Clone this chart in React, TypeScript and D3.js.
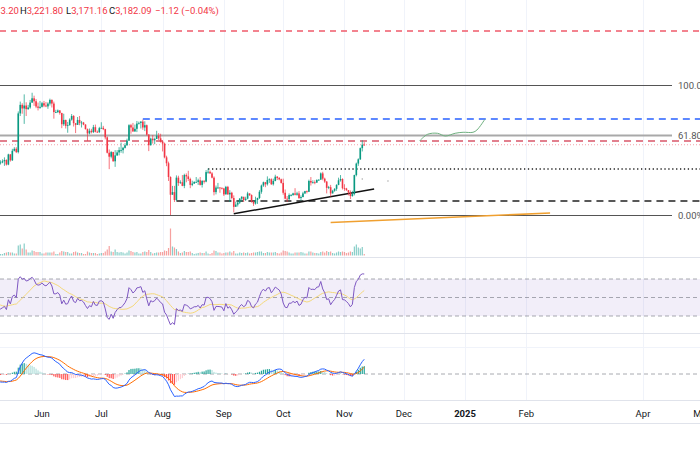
import React from 'react';
import * as d3 from 'd3';

// ETH/USD daily, 2024-05-01 .. 2024-11-11
const firstDay = '2024-05-01';

// April closes, only used so the indicators are warmed up
const warmupCloses = [
  3505, 3275, 3310, 3330, 3320, 3350, 3455, 3700, 3505, 3545, 3505, 3240, 3005, 3105, 3095,
  3080, 2985, 3065, 3055, 3155, 3145, 3200, 3220, 3140, 3155, 3130, 3255, 3265, 3215, 3015,
];

const closes = [
  2970, 2990, 3100, 3115, 3135, 3065, 3010, 2975, 3035, 2910, 2912, 2930, 2950, 2880, 3035, 2945, 3090, 3120, 3070, 3660, 3790, 3735, 3780, 3725, 3750, 3825, 3890, 3845, 3765, 3745, 3760,
  3815, 3780, 3767, 3810, 3865, 3810, 3680, 3680, 3705, 3665, 3495, 3560, 3470, 3480, 3565, 3620, 3510, 3485, 3560, 3515, 3520, 3490, 3420, 3355, 3395, 3375, 3450, 3380, 3375, 3435,
  3440, 3420, 3295, 3060, 3000, 3070, 2930, 3020, 3065, 3100, 3100, 3135, 3175, 3245, 3480, 3445, 3385, 3425, 3505, 3515, 3535, 3445, 3480, 3335, 3175, 3275, 3250, 3270, 3320, 3280, 3230,
  3200, 2990, 2900, 2690, 2420, 2460, 2340, 2680, 2600, 2610, 2555, 2720, 2700, 2660, 2570, 2590, 2615, 2615, 2640, 2570, 2630, 2620, 2765, 2770, 2745, 2680, 2460, 2530, 2530, 2525, 2515,
  2425, 2540, 2425, 2450, 2370, 2235, 2270, 2300, 2360, 2390, 2340, 2360, 2440, 2415, 2315, 2285, 2340, 2370, 2465, 2560, 2610, 2580, 2645, 2655, 2580, 2630, 2695, 2675, 2655, 2600,
  2450, 2360, 2350, 2415, 2415, 2440, 2420, 2440, 2370, 2385, 2440, 2475, 2465, 2630, 2605, 2610, 2605, 2645, 2650, 2745, 2665, 2620, 2525, 2535, 2440, 2480, 2510, 2570, 2640, 2660, 2520,
  2515, 2490, 2455, 2400, 2430, 2720, 2895, 2960, 3130, 3183, 3182.09,
];

const highs = [
  3020, 3010, 3120, 3170, 3170, 3220, 3130, 3030, 3060, 3050, 2945, 2960, 2990, 2960, 3045, 3040, 3120, 3145, 3145, 3690, 3840, 3815, 3950, 3830, 3790, 3865, 3975, 3930, 3880, 3825, 3850,
  3835, 3850, 3835, 3830, 3885, 3875, 3840, 3715, 3720, 3710, 3670, 3655, 3565, 3530, 3585, 3650, 3635, 3515, 3605, 3620, 3545, 3530, 3495, 3430, 3430, 3425, 3485, 3490, 3400, 3455,
  3525, 3470, 3425, 3310, 3110, 3085, 3075, 3100, 3100, 3145, 3215, 3150, 3205, 3275, 3495, 3500, 3515, 3490, 3545, 3535, 3540, 3565, 3540, 3490, 3345, 3290, 3330, 3290, 3395, 3360, 3350,
  3245, 3215, 3015, 2925, 2700, 2555, 2555, 2715, 2710, 2640, 2720, 2740, 2745, 2785, 2680, 2635, 2625, 2690, 2665, 2690, 2645, 2645, 2795, 2820, 2790, 2765, 2700, 2560, 2600, 2535, 2530,
  2525, 2555, 2555, 2490, 2465, 2410, 2315, 2330, 2370, 2395, 2385, 2390, 2465, 2440, 2425, 2320, 2390, 2375, 2490, 2575, 2620, 2615, 2700, 2670, 2670, 2665, 2725, 2705, 2690, 2665,
  2665, 2500, 2400, 2440, 2430, 2450, 2520, 2465, 2475, 2410, 2465, 2480, 2485, 2650, 2690, 2640, 2640, 2655, 2655, 2760, 2770, 2680, 2630, 2555, 2570, 2495, 2520, 2580, 2680, 2720, 2670,
  2580, 2525, 2490, 2485, 2480, 2725, 2910, 2975, 3140, 3250, 3221.8,
];

const lows = [
  2815, 2890, 2960, 3090, 3080, 3050, 3000, 2940, 2950, 2880, 2880, 2900, 2860, 2865, 2870, 2925, 2935, 3080, 3055, 3050, 3620, 3655, 3500, 3620, 3715, 3730, 3820, 3775, 3740, 3705, 3730,
  3750, 3755, 3755, 3730, 3780, 3750, 3580, 3665, 3665, 3640, 3435, 3470, 3430, 3365, 3475, 3550, 3460, 3360, 3485, 3480, 3445, 3480, 3415, 3240, 3340, 3355, 3360, 3370, 3365, 3360,
  3425, 3405, 3265, 3050, 2810, 2975, 2925, 2845, 3010, 3020, 3060, 3050, 3125, 3165, 3240, 3350, 3380, 3380, 3375, 3490, 3430, 3410, 3390, 3320, 3085, 3170, 3200, 3190, 3300, 3255, 3215,
  3080, 2975, 2855, 2630, 2111, 2420, 2310, 2325, 2555, 2585, 2550, 2520, 2610, 2630, 2520, 2550, 2585, 2605, 2570, 2560, 2530, 2590, 2610, 2740, 2740, 2670, 2410, 2425, 2510, 2450, 2500,
  2400, 2425, 2420, 2310, 2350, 2150, 2260, 2240, 2280, 2320, 2310, 2325, 2350, 2400, 2300, 2250, 2270, 2280, 2355, 2435, 2540, 2535, 2560, 2600, 2570, 2560, 2625, 2645, 2640, 2590,
  2420, 2350, 2310, 2345, 2395, 2405, 2410, 2405, 2355, 2330, 2380, 2430, 2440, 2460, 2560, 2590, 2580, 2600, 2630, 2645, 2640, 2600, 2440, 2505, 2390, 2440, 2465, 2480, 2565, 2620, 2500,
  2480, 2480, 2410, 2355, 2390, 2410, 2700, 2860, 2950, 3080, 3171.16,
];

const volumes = [
  40, 25, 30, 20, 15, 25, 25, 20, 25, 30, 15, 15, 25, 30, 35, 30, 30, 20, 20, 100, 110, 70, 120, 60, 30, 30, 50, 45, 35, 35, 35,
  20, 20, 30, 30, 30, 30, 40, 15, 15, 30, 45, 40, 35, 35, 20, 20, 35, 40, 30, 25, 25, 15, 15, 40, 30, 25, 25, 25, 15, 20,
  25, 25, 40, 60, 95, 40, 35, 60, 35, 30, 35, 30, 20, 30, 50, 45, 35, 30, 35, 20, 20, 35, 40, 35, 55, 35, 20, 25, 30, 30, 35,
  35, 50, 45, 75, 270, 90, 80, 65, 40, 25, 30, 45, 35, 35, 40, 25, 15, 20, 25, 30, 25, 25, 40, 20, 15, 25, 50, 45, 30, 30, 20,
  25, 30, 30, 40, 30, 45, 20, 20, 30, 25, 30, 25, 30, 20, 25, 30, 30, 35, 40, 40, 25, 25, 35, 30, 30, 30, 35, 25, 20, 30,
  50, 45, 40, 30, 20, 20, 30, 30, 30, 35, 30, 20, 20, 40, 40, 30, 25, 25, 20, 35, 40, 30, 45, 35, 40, 25, 20, 30, 40, 35, 40,
  35, 25, 30, 40, 35, 90, 110, 80, 70, 85, 15,
];

const tickDates = ['2024-06-01', '2024-07-01', '2024-08-01', '2024-09-01', '2024-10-01', '2024-11-01', '2024-12-01', '2025-01-01', '2025-02-01', '2025-04-01', '2025-05-01'];
const tickLabels = ['Jun', 'Jul', 'Aug', 'Sep', 'Oct', 'Nov', 'Dec', '2025', 'Feb', 'Apr', 'May'];

// fib retracement (Aug low -> March high)
const fibLow = 2111;
const fibHigh = 4093;
const fibLabels = ['100.00%', '61.80%', '0.00%'];
const fibRatios = [1, 0.618, 0];

// drawn levels
const targetLevel = 4916;
const redLevel = 3239;
const blueLevel = { from: '2024-07-22', price: 3575 };
const dottedLevel = { from: '2024-08-24', price: 2812 };
const dashedLevel = { from: '2024-08-08', price: 2324 };
const trendLine = [['2024-09-06', 2130], ['2024-11-16', 2507]];
const orangeLine = [['2024-10-25', 1997], ['2025-02-13', 2141]];
const projection = [
  ['2024-12-09', 3240], ['2024-12-13', 3341], ['2024-12-18', 3357], ['2024-12-22', 3315], ['2024-12-27', 3357],
  ['2024-12-31', 3372], ['2025-01-05', 3372], ['2025-01-07', 3407], ['2025-01-11', 3570],
];
const strayDots = [['2024-11-10', 2660], ['2024-11-23', 2630]];

const header = [
  { k: 'O', v: '3,183.20', x: -24 },
  { k: 'H', v: '3,221.80', x: 20 },
  { k: 'L', v: '3,171.16', x: 66 },
  { k: 'C', v: '3,182.09', x: 109 },
  { k: '', v: '\u22121.12 (\u22120.04%)', x: 155 },
];

const W = 700;
const H = 450;
const UP = '#089981';
const DOWN = '#f23645';
const FONT = 'Roboto, "Open Sans", sans-serif';

const day = (s: string) => new Date(s + 'T00:00:00Z');

function ema(vals: number[], n: number) {
  const k = 2 / (n + 1);
  let e = vals[0];
  return vals.map((v, i) => (i === 0 ? e : (e = v * k + e * (1 - k))));
}

function wilderRsi(vals: number[], n: number) {
  const out = vals.map(() => NaN);
  let g = 0;
  let l = 0;
  for (let i = 1; i <= n; i++) {
    const d = vals[i] - vals[i - 1];
    if (d > 0) g += d;
    else l -= d;
  }
  g /= n;
  l /= n;
  out[n] = 100 - 100 / (1 + g / l);
  for (let i = n + 1; i < vals.length; i++) {
    const d = vals[i] - vals[i - 1];
    g = (g * (n - 1) + Math.max(d, 0)) / n;
    l = (l * (n - 1) + Math.max(-d, 0)) / n;
    out[i] = l === 0 ? 100 : 100 - 100 / (1 + g / l);
  }
  return out;
}

function sma(vals: number[], n: number) {
  return vals.map((_, i) => {
    if (i < n - 1) return NaN;
    const w = vals.slice(i - n + 1, i + 1);
    return w.some((v) => isNaN(v)) ? NaN : d3.mean(w)!;
  });
}

export default function App() {
  const x = d3.scaleUtc().domain([day('2024-06-01'), day('2025-04-01')]).range([42, 643]);
  const y = d3.scaleLinear().domain([fibLow, fibHigh]).range([215, 85]);
  const rsiY = d3.scaleLinear().domain([30, 70]).range([316, 279]);
  const macdY = d3.scaleLinear().domain([-250, 250]).range([400, 348]);
  const volH = d3.scaleLinear().domain([0, d3.max(volumes)!]).range([0, 27]);
  const volBase = 255.5;

  const start = day(firstDay);
  const dates = closes.map((_, i) => d3.utcDay.offset(start, i));
  const bars = closes.map((c, i) => {
    const o = i === 0 ? warmupCloses[warmupCloses.length - 1] : closes[i - 1];
    return { date: dates[i], o, c, h: highs[i], l: lows[i], v: volumes[i], up: c >= o };
  });

  const all = [...warmupCloses, ...closes];
  const off = warmupCloses.length;
  const rsiAll = wilderRsi(all, 14);
  const rsiMaAll = sma(rsiAll, 14);
  const fast = ema(all, 12);
  const slow = ema(all, 26);
  const macdAll = fast.map((f, i) => f - slow[i]);
  const signalAll = ema(macdAll, 9);
  const histAll = macdAll.map((m, i) => m - signalAll[i]);

  const rsi = rsiAll.slice(off);
  const rsiMa = rsiMaAll.slice(off);
  const macd = macdAll.slice(off);
  const signal = signalAll.slice(off);
  const hist = histAll.slice(off);

  const lineOf = (vals: number[], sy: d3.ScaleLinear<number, number>) =>
    d3
      .line<number>()
      .defined((v) => !isNaN(v))
      .x((_, i) => x(dates[i]))
      .y((v) => sy(v))(vals) || '';

  const ptLine = d3
    .line<(string | number)[]>()
    .x((d) => x(day(d[0] as string)))
    .y((d) => y(d[1] as number));
  const projPath = ptLine.curve(d3.curveCatmullRom)(projection) || '';

  const histColor = (i: number) => {
    const v = hist[i];
    const prev = i > 0 ? hist[i - 1] : histAll[off - 1];
    if (v >= 0) return v >= prev ? '#26a69a' : '#b2dfdb';
    return v < prev ? '#ff5252' : '#ffcdd2';
  };

  const fibX2 = 672;

  return (
    <svg width={W} height={H} style={{ position: 'fixed', left: 0, top: 0, background: '#fff' }} fontFamily={FONT}>
      <rect width={W} height={H} fill="#fff" />

      {/* grid */}
      {tickDates.map((t) => (
        <line key={t} x1={Math.round(x(day(t))) + 0.5} x2={Math.round(x(day(t))) + 0.5} y1={0} y2={400} stroke="#f0f3fa" />
      ))}
      <line x1={0} x2={W} y1={347.5} y2={347.5} stroke="#f0f3fa" />
      {[257.5, 333.5, 400.5, 423.5].map((py) => (
        <line key={py} x1={0} x2={W} y1={py} y2={py} stroke="#e0e3eb" />
      ))}

      {/* header */}
      {header.map((h) => (
        <text key={h.x} x={h.x} y={14} fontSize={9.5}>
          {h.k && <tspan fill="#131722">{h.k}</tspan>}
          <tspan fill={DOWN}>{h.v}</tspan>
        </text>
      ))}

      {/* target / levels */}
      <line x1={0} x2={W} y1={y(targetLevel)} y2={y(targetLevel)} stroke="#ef5b6b" strokeWidth={1.5} strokeDasharray="6,5" />
      {fibRatios.map((r, i) => {
        const py = Math.round(y(fibLow + r * (fibHigh - fibLow)));
        return (
          <g key={r}>
            <line x1={0} x2={fibX2} y1={py + 0.5} y2={py + 0.5} stroke={r === 0.618 ? '#a9a9a9' : '#555'} strokeWidth={r === 0.618 ? 2 : 1} />
            <text x={678} y={py + 3.5} fontSize={9.5} fill="#555">
              {fibLabels[i]}
            </text>
          </g>
        );
      })}
      <line x1={x(day(blueLevel.from))} x2={W} y1={y(blueLevel.price)} y2={y(blueLevel.price)} stroke="#2962ff" strokeWidth={1.3} strokeDasharray="7,5" />
      <line x1={0} x2={W} y1={y(redLevel)} y2={y(redLevel)} stroke="#d9576a" strokeWidth={1.5} strokeDasharray="7,5" />
      <line x1={0} x2={W} y1={y(3182.09)} y2={y(3182.09)} stroke="#f4a3ac" strokeWidth={1} strokeDasharray="1,2" />
      <line x1={x(day(dottedLevel.from))} x2={W} y1={y(dottedLevel.price)} y2={y(dottedLevel.price)} stroke="#222" strokeWidth={1.3} strokeDasharray="1.3,2.6" />
      <line x1={x(day(dashedLevel.from))} x2={W} y1={y(dashedLevel.price)} y2={y(dashedLevel.price)} stroke="#222" strokeWidth={1.6} strokeDasharray="7,5" />
      <path d={ptLine(trendLine) || ''} stroke="#111" strokeWidth={1.5} fill="none" />
      <path d={ptLine(orangeLine) || ''} stroke="#f0a030" strokeWidth={1.6} fill="none" />
      <path d={projPath} stroke="#6fb07f" strokeWidth={1} fill="none" />
      {strayDots.map((d) => (
        <circle key={d[0] as string} cx={x(day(d[0] as string))} cy={y(d[1] as number)} r={0.8} fill="#aaa" />
      ))}

      {/* volume */}
      {bars.map((b, i) => (
        <rect
          key={'v' + i}
          x={x(b.date) - 0.6}
          width={1.2}
          y={volBase - volH(b.v)}
          height={volH(b.v)}
          fill={b.up ? '#26a69a' : '#ef5350'}
          opacity={0.55}
        />
      ))}

      {/* candles */}
      {bars.map((b, i) => {
        const cx = x(b.date);
        const top = y(Math.max(b.o, b.c));
        const bot = y(Math.min(b.o, b.c));
        const col = b.up ? UP : DOWN;
        return (
          <g key={'c' + i}>
            <line x1={cx} x2={cx} y1={y(b.h)} y2={y(b.l)} stroke={col} strokeWidth={0.7} />
            <rect x={cx - 0.8} width={1.6} y={top} height={Math.max(0.8, bot - top)} fill={col} />
          </g>
        );
      })}

      {/* RSI */}
      <rect x={0} width={W} y={rsiY(70)} height={rsiY(30) - rsiY(70)} fill="#7e57c2" opacity={0.1} />
      {[70, 50, 30].map((v) => (
        <line key={v} x1={0} x2={W} y1={rsiY(v)} y2={rsiY(v)} stroke="#787b86" strokeWidth={0.8} strokeDasharray="4,3" opacity={0.8} />
      ))}
      <path d={lineOf(rsiMa, rsiY)} stroke="#f5d97a" strokeWidth={1} fill="none" />
      <path d={lineOf(rsi, rsiY)} stroke="#7e57c2" strokeWidth={1} fill="none" />

      {/* MACD */}
      <line x1={0} x2={W} y1={macdY(0)} y2={macdY(0)} stroke="#787b86" strokeWidth={0.8} strokeDasharray="4,3" opacity={0.8} />
      {hist.map((h, i) => (
        <rect
          key={'h' + i}
          x={x(dates[i]) - 0.6}
          width={1.2}
          y={Math.min(macdY(0), macdY(h))}
          height={Math.abs(macdY(h) - macdY(0))}
          fill={histColor(i)}
        />
      ))}
      <path d={lineOf(signal, macdY)} stroke="#ff6d00" strokeWidth={1} fill="none" />
      <path d={lineOf(macd, macdY)} stroke="#2962ff" strokeWidth={1} fill="none" />

      {/* time axis */}
      {tickDates.map((t, i) => (
        <text
          key={'t' + t}
          x={x(day(t))}
          y={417}
          fontSize={9.5}
          textAnchor="middle"
          fill="#131722"
          fontWeight={tickLabels[i] === '2025' ? 'bold' : 'normal'}
        >
          {tickLabels[i]}
        </text>
      ))}
    </svg>
  );
}
